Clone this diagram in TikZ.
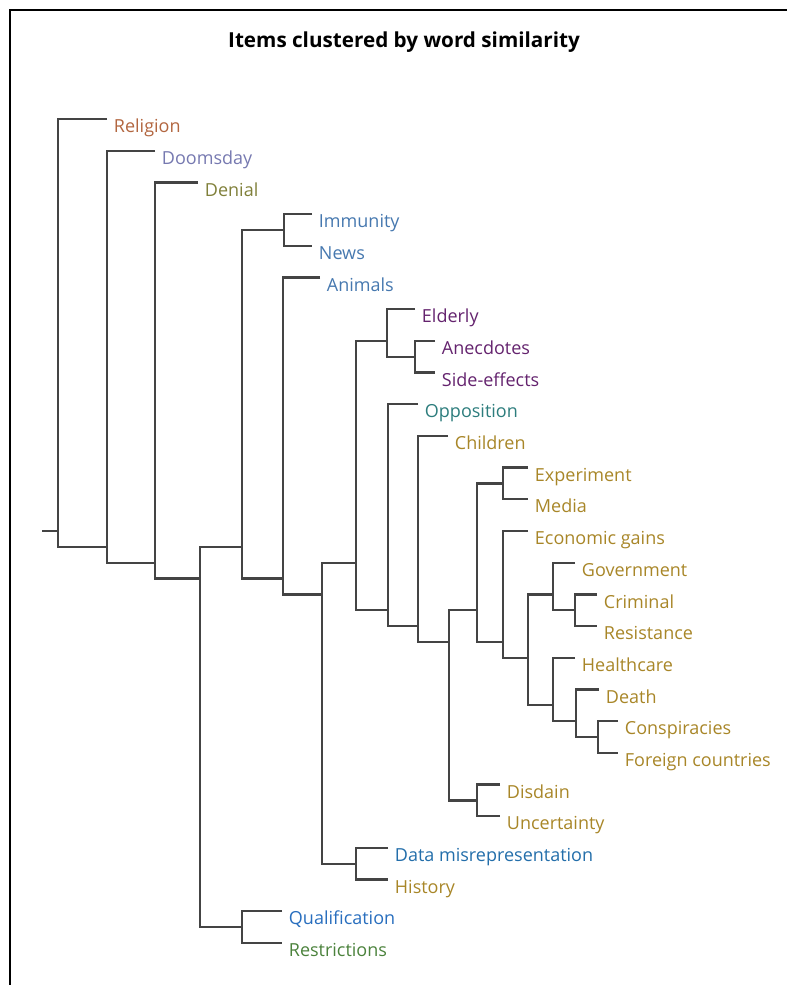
\documentclass[tikz,border=0pt]{standalone}
\usepackage{fontspec}
\setmainfont{Open Sans}
\usepackage{xcolor}
\usetikzlibrary{positioning}

\definecolor{linkgray}{RGB}{68,68,68}
\definecolor{religioncol}{RGB}{178,102,64}
\definecolor{doomcol}{RGB}{118,121,176}
\definecolor{denialcol}{RGB}{128,128,58}
\definecolor{steelcol}{RGB}{70,120,175}
\definecolor{purplecol}{RGB}{100,35,110}
\definecolor{tealcol}{RGB}{45,125,125}
\definecolor{goldcol}{RGB}{168,134,40}
\definecolor{datacol}{RGB}{35,110,170}
\definecolor{qualcol}{RGB}{40,110,190}
\definecolor{restrcol}{RGB}{75,130,60}

\begin{document}
\begin{tikzpicture}[x=0.75pt,y=-0.75pt]
            % Styles
            \tikzstyle{leaf} = [anchor=north west, inner xsep=5pt, inner ysep=0pt, text height=10pt, text depth=3pt, font=\fontsize{13.5}{16}\selectfont]
            \tikzstyle{link} = [draw=linkgray, line width=1.7pt]

            \useasboundingbox (0,0) rectangle (787,985);

            % Frame and title
            \draw[line width=2pt] (10,985) -- (10,10) -- (787,10);
            \node[font=\bfseries\fontsize{15.5}{18}\selectfont] (title) at (404,42) {Items clustered by word similarity};

            % Leaves
            \node[leaf, text=religioncol] (religion) at (107,119.0) {Religion};
            \node[leaf, text=doomcol] (doomsday) at (155,150.7) {Doomsday};
            \node[leaf, text=denialcol] (denial) at (198,182.4) {Denial};
            \node[leaf, text=steelcol] (immunity) at (312,214.1) {Immunity};
            \node[leaf, text=steelcol] (news) at (312,245.8) {News};
            \node[leaf, text=steelcol] (animals) at (320,277.5) {Animals};
            \node[leaf, text=purplecol] (elderly) at (415,309.1) {Elderly};
            \node[leaf, text=purplecol] (anecdotes) at (435,340.8) {Anecdotes};
            \node[leaf, text=purplecol] (side_effects) at (435,372.5) {Side-effects};
            \node[leaf, text=tealcol] (opposition) at (418,404.2) {Opposition};
            \node[leaf, text=goldcol] (children) at (448,435.9) {Children};
            \node[leaf, text=goldcol] (experiment) at (528,467.6) {Experiment};
            \node[leaf, text=goldcol] (media) at (528,499.3) {Media};
            \node[leaf, text=goldcol] (economic) at (528,531.0) {Economic gains};
            \node[leaf, text=goldcol] (government) at (575,562.7) {Government};
            \node[leaf, text=goldcol] (criminal) at (597,594.4) {Criminal};
            \node[leaf, text=goldcol] (resistance) at (597,626.0) {Resistance};
            \node[leaf, text=goldcol] (healthcare) at (575,657.7) {Healthcare};
            \node[leaf, text=goldcol] (death) at (599,689.4) {Death};
            \node[leaf, text=goldcol] (conspiracies) at (618,721.1) {Conspiracies};
            \node[leaf, text=goldcol] (foreign) at (618,752.8) {Foreign countries};
            \node[leaf, text=goldcol] (disdain) at (500,784.5) {Disdain};
            \node[leaf, text=goldcol] (uncertainty) at (500,816.2) {Uncertainty};
            \node[leaf, text=datacol] (data_misrep) at (388,847.9) {Data misrepresentation};
            \node[leaf, text=goldcol] (history) at (388,879.6) {History};
            \node[leaf, text=qualcol] (qualification) at (282,911.3) {Qualification};
            \node[leaf, text=restrcol] (restrictions) at (282,943.0) {Restrictions};

            % Joints
            \coordinate (stub) at (42,531.0);
            \coordinate (j_religion) at (58,531.0);
            \coordinate (j_doomsday) at (107,546.8);
            \coordinate (j_denial) at (155,562.7);
            \coordinate (j_core) at (200,578.5);
            \coordinate (j_upper) at (242,546.8);
            \coordinate (j_immunity) at (284,229.9);
            \coordinate (j_animals) at (283,578.5);
            \coordinate (j_rest) at (322,594.4);
            \coordinate (j_middle) at (356,562.7);
            \coordinate (j_elderly) at (387,340.8);
            \coordinate (j_anecdotes) at (415,356.7);
            \coordinate (j_opposition) at (388,610.2);
            \coordinate (j_children) at (418,626.0);
            \coordinate (j_gold) at (449,641.9);
            \coordinate (j_media_econ) at (477,610.2);
            \coordinate (j_experiment) at (503,483.4);
            \coordinate (j_economic) at (503,641.9);
            \coordinate (j_gov_health) at (528,657.7);
            \coordinate (j_government) at (553,594.4);
            \coordinate (j_criminal) at (575,610.2);
            \coordinate (j_healthcare) at (553,705.3);
            \coordinate (j_death) at (576,721.1);
            \coordinate (j_conspiracies) at (598,737.0);
            \coordinate (j_disdain) at (477,800.4);
            \coordinate (j_data) at (356,863.7);
            \coordinate (j_qualification) at (242,927.1);

            % Links
            \draw[link] (stub) -- (j_religion);
            \draw[link] (religion.north west) -| (j_religion) |- (j_doomsday);
            \draw[link] (doomsday.north west) -| (j_doomsday) |- (j_denial);
            \draw[link] (denial.north west) -| (j_denial) |- (j_core);
            \draw[link] (j_upper) -| (j_core) |- (j_qualification);
            \draw[link] (j_immunity) -| (j_upper) |- (j_animals);
            \draw[link] (immunity.north west) -| (j_immunity) |- (news.north west);
            \draw[link] (animals.north west) -| (j_animals) |- (j_rest);
            \draw[link] (j_middle) -| (j_rest) |- (j_data);
            \draw[link] (j_elderly) -| (j_middle) |- (j_opposition);
            \draw[link] (elderly.north west) -| (j_elderly) |- (j_anecdotes);
            \draw[link] (anecdotes.north west) -| (j_anecdotes) |- (side_effects.north west);
            \draw[link] (opposition.north west) -| (j_opposition) |- (j_children);
            \draw[link] (children.north west) -| (j_children) |- (j_gold);
            \draw[link] (j_media_econ) -| (j_gold) |- (j_disdain);
            \draw[link] (j_experiment) -| (j_media_econ) |- (j_economic);
            \draw[link] (experiment.north west) -| (j_experiment) |- (media.north west);
            \draw[link] (economic.north west) -| (j_economic) |- (j_gov_health);
            \draw[link] (j_government) -| (j_gov_health) |- (j_healthcare);
            \draw[link] (government.north west) -| (j_government) |- (j_criminal);
            \draw[link] (criminal.north west) -| (j_criminal) |- (resistance.north west);
            \draw[link] (healthcare.north west) -| (j_healthcare) |- (j_death);
            \draw[link] (death.north west) -| (j_death) |- (j_conspiracies);
            \draw[link] (conspiracies.north west) -| (j_conspiracies) |- (foreign.north west);
            \draw[link] (disdain.north west) -| (j_disdain) |- (uncertainty.north west);
            \draw[link] (data_misrep.north west) -| (j_data) |- (history.north west);
            \draw[link] (qualification.north west) -| (j_qualification) |- (restrictions.north west);
        \end{tikzpicture}
\end{document}
